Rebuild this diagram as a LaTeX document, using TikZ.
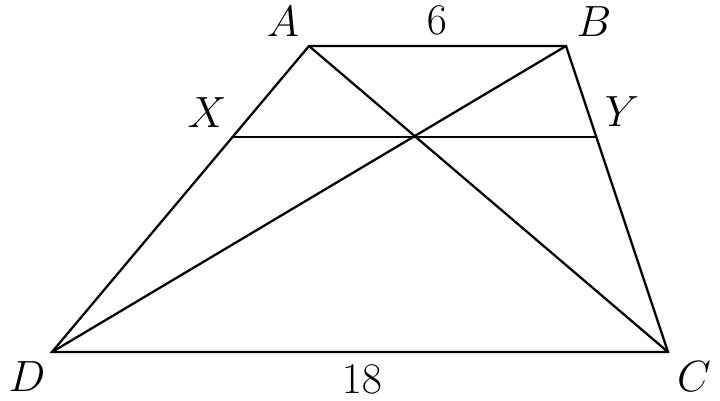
\documentclass[tikz,border=0pt]{standalone}
\usepackage{tikz}
\usepackage{amssymb}

\begin{document}
\begin{tikzpicture}[x=0.02cm, y=-0.02cm, line width=1.3pt,
  lbl/.style={inner sep=0pt, font=\fontsize{25}{30}\selectfont}]
                        \useasboundingbox (0, 0) rectangle (720, 401);

                        \coordinate (A) at (309, 46);
                        \coordinate (B) at (566, 46);
                        \coordinate (C) at (668, 352);
                        \coordinate (D) at (52, 352);
                        \coordinate (X) at (232.6, 137);
                        \coordinate (Y) at (596.3, 137);

                        \draw (A) -- (B) -- (C) -- (D) -- cycle;
                        \draw (A) -- (C);
                        \draw (B) -- (D);
                        \draw (X) -- (Y);

                        % vertex labels
                        \node (lA) at (283, 22) [lbl] {$A$};
                        \node (lB) at (594, 22) [lbl] {$B$};
                        \node (lC) at (694, 377) [lbl] {$C$};
                        \node (lD) at (27, 377) [lbl] {$D$};
                        \node (lX) at (207, 113) [lbl] {$X$};
                        \node (lY) at (622, 112) [lbl] {$Y$};

                        % side lengths
                        \node (AB) at (437, 20) [lbl] {$6$};
                        \node (DC) at (362, 379) [lbl] {$18$};
                    \end{tikzpicture}
\end{document}
